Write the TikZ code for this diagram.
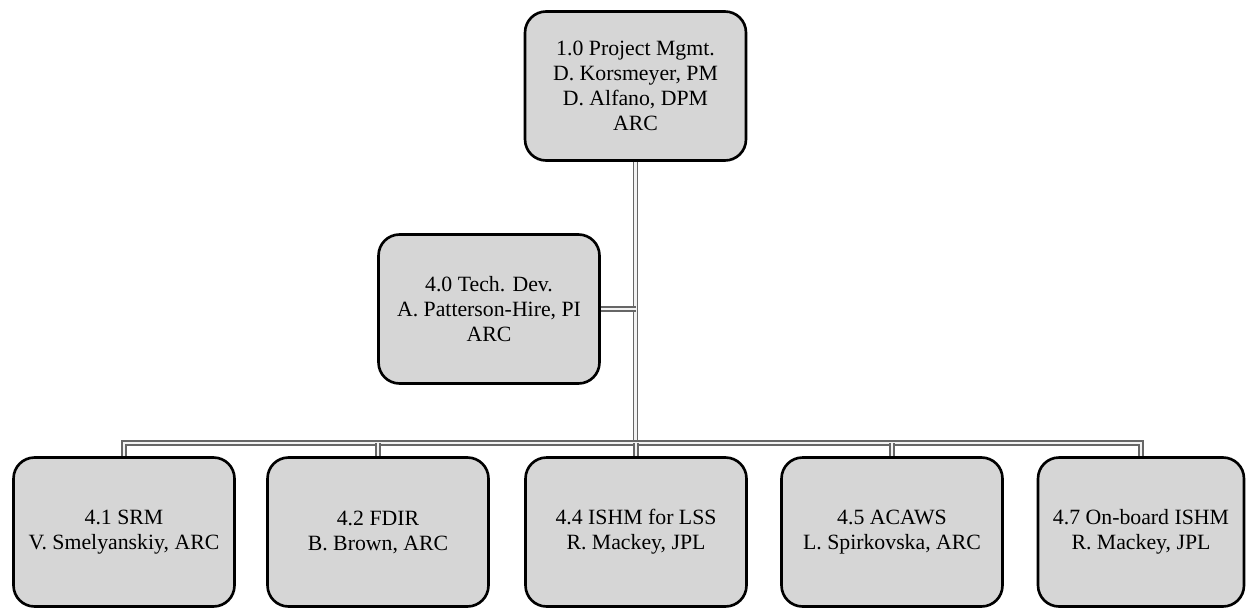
\documentclass[tikz,border=0pt]{standalone}
\usepackage{fontspec}
\setmainfont{Liberation Serif}
\begin{document}
\begin{tikzpicture}[x=0.02cm, y=-0.02cm,
    wbsbox/.style={draw=black, line width=1.5pt, fill=black!16, rounded corners=0.42cm,
        minimum width=4.42cm, minimum height=2.98cm, align=center,
        font=\fontsize{12.4}{14.2}\selectfont},
    link/.style={draw=black!60, line width=0.9pt, double=black!5, double distance=1.2pt}]
    \useasboundingbox (0,0) rectangle (1246,608);

    % top and middle
    \node[wbsbox] (pm) at (635.5,86) {1.0 Project Mgmt.\\D. Korsmeyer, PM\\D. Alfano, DPM\\ARC};
    \node[wbsbox] (techdev) at (489,309) {4.0 Tech. Dev.\\A. Patterson-Hire, PI\\ARC};

    % bottom row
    \node[wbsbox] (srm) at (124,532) {4.1 SRM\\V. Smelyanskiy, ARC};
    \node[wbsbox] (fdir) at (378,532) {4.2 FDIR\\B. Brown, ARC};
    \node[wbsbox] (lss) at (636,532) {4.4 ISHM for LSS\\R. Mackey, JPL};
    \node[wbsbox] (acaws) at (892,532) {4.5 ACAWS\\L. Spirkovska, ARC};
    \node[wbsbox, minimum width=4.12cm] (onboard) at (1141,532) {4.7 On-board ISHM\\R. Mackey, JPL};

    \coordinate (bus) at (0,443);

    \draw[link] (pm.south) -- (pm.south |- bus);
    \draw[link] (techdev.east) -- (techdev.east -| pm.south);
    \draw[link] (srm.north) -- (srm.north |- bus) -- (onboard.north |- bus) -- (onboard.north);
    \foreach \n in {fdir,lss,acaws}
        \draw[link] (\n.north) -- (\n.north |- bus);
\end{tikzpicture}
\end{document}
